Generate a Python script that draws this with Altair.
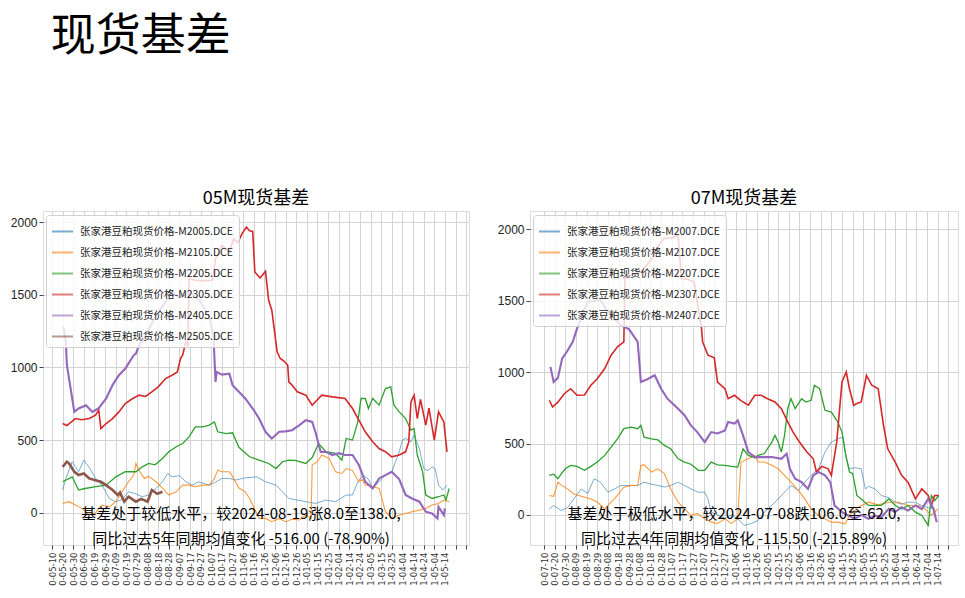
import altair as alt
import pandas as pd

CJK = "Noto Sans CJK SC"
NARROW = "Liberation Sans Narrow, Noto Sans CJK SC"
NUM = "Liberation Sans"

# ---------------- tick labels ----------------
L_LABELS = ["0-05-10", "0-05-20", "0-05-30", "0-06-09", "0-06-19", "0-06-29", "0-07-09", "0-07-19",
            "0-07-29", "0-08-08", "0-08-18", "0-08-28", "0-09-07", "0-09-17", "0-09-27", "0-10-07",
            "0-10-17", "0-10-27", "0-11-06", "0-11-16", "0-11-26", "0-12-06", "0-12-16", "0-12-26",
            "1-01-05", "1-01-15", "1-01-25", "1-02-04", "1-02-14", "1-02-24", "1-03-05", "1-03-15",
            "1-03-25", "1-04-04", "1-04-14", "1-04-24", "1-05-04", "1-05-14"]
R_LABELS = ["0-07-10", "0-07-20", "0-07-30", "0-08-09", "0-08-19", "0-08-29", "0-09-08", "0-09-18",
            "0-09-28", "0-10-08", "0-10-18", "0-10-28", "0-11-07", "0-11-17", "0-11-27", "0-12-07",
            "0-12-17", "0-12-27", "1-01-06", "1-01-16", "1-01-26", "1-02-05", "1-02-15", "1-02-25",
            "1-03-06", "1-03-16", "1-03-26", "1-04-05", "1-04-15", "1-04-25", "1-05-05", "1-05-15",
            "1-05-25", "1-06-04", "1-06-14", "1-06-24", "1-07-04", "1-07-14"]

# ---------------- left panel (05M) ----------------
L_NAMES = ["张家港豆粕现货价格-M2005.DCE", "张家港豆粕现货价格-M2105.DCE", "张家港豆粕现货价格-M2205.DCE",
           "张家港豆粕现货价格-M2305.DCE", "张家港豆粕现货价格-M2405.DCE", "张家港豆粕现货价格-M2505.DCE"]

L_M2005_DAYS = [10, 13, 19, 25, 30, 36, 41, 47, 54, 60, 66, 72, 79, 85, 91, 98, 104, 109, 113, 120,
                126, 132, 138, 148, 154, 160, 167, 173, 182, 193, 201, 211, 217, 223, 229, 239, 248, 258,
                267, 277, 283, 288, 293, 298, 302, 308, 314, 320, 327, 330, 333, 338, 341, 346, 350, 354,
                358, 361, 364, 368, 372]
L_M2005_VALS = [156, 236, 351, 282, 362, 300, 236, 190, 98, 76, 90, 144, 130, 110, 122, 167, 213, 270, 247, 255,
                213, 190, 213, 190, 210, 236, 236, 225, 240, 247, 213, 190, 144, 98, 90, 76, 64, 87,
                76, 122, 122, 213, 259, 230, 167, 213, 259, 282, 419, 500, 511, 488, 534, 442, 304, 290,
                316, 300, 190, 156, 190]

L_M2105_DAYS = [10, 16, 22, 28, 35, 41, 47, 54, 60, 66, 72, 77, 79, 82, 87, 91, 98, 104, 110, 117,
                123, 129, 135, 142, 148, 153, 156, 160, 167, 170, 176, 182, 186, 189, 192, 195, 201, 207,
                214, 220, 226, 233, 239, 244, 245, 250, 254, 261, 267, 273, 277, 283, 289, 292, 295, 302,
                308, 314, 320, 327, 333, 339, 346, 352, 358, 364, 369, 374]
L_M2105_VALS = [64, 76, 53, 30, -16, 0, 53, 40, 76, 144, 213, 259, 339, 290, 236, 250, 213, 170, 122, 144,
                190, 190, 179, 190, 190, 236, 293, 282, 282, 250, 170, 144, 98, 53, 7, -39, -39, -62,
                -39, -62, -45, -50, -16, -39, 328, 351, 397, 373, 282, 270, 304, 290, 213, 230, 190, 180,
                167, 7, -39, -16, -5, 7, 18, 30, 53, 64, 87, 76]

L_M2205_DAYS = [10, 19, 25, 30, 41, 51, 60, 69, 79, 85, 91, 97, 104, 110, 117, 123, 129, 135, 142, 148,
                153, 156, 164, 170, 176, 186, 195, 204, 211, 217, 223, 229, 239, 245, 251, 258, 267, 273,
                277, 283, 288, 291, 295, 298, 302, 308, 314, 319, 322, 327, 333, 338, 341, 344, 349, 352,
                358, 364, 369, 371, 374]
L_M2205_VALS = [213, 247, 156, 165, 179, 190, 247, 282, 282, 316, 340, 330, 373, 419, 454, 476, 522, 591, 591, 603,
                625, 557, 545, 550, 450, 385, 362, 339, 304, 351, 362, 360, 339, 380, 476, 420, 408, 362,
                511, 500, 625, 786, 786, 717, 786, 740, 854, 866, 740, 694, 648, 568, 580, 397, 282, 122,
                98, 110, 122, 87, 167]

L_M2305_DAYS = [10, 14, 22, 28, 35, 41, 44, 46, 51, 57, 63, 69, 76, 82, 88, 94, 100, 107, 113, 118,
                121, 123, 126, 128, 129, 135, 141, 151, 154, 160, 167, 171, 175, 179, 183, 186, 189, 191,
                196, 201, 204, 207, 212, 215, 219, 222, 223, 226, 231, 239, 245, 254, 264, 276, 283, 289,
                295, 302, 308, 314, 320, 327, 333, 336, 338, 341, 344, 347, 352, 355, 360, 364, 369, 372]
L_M2305_VALS = [614, 600, 648, 640, 648, 671, 706, 579, 614, 648, 694, 751, 786, 809, 800, 832, 866, 923, 946, 969,
                1060, 1084, 1175, 1150, 1610, 1600, 1595, 1600, 1748, 1840, 1794, 1885, 1860, 1920, 1966, 1940,
                1936, 1656, 1615, 1661, 1462, 1393, 1107, 1061, 1040, 1015, 900, 878, 832, 809, 740, 809, 797,
                786, 717, 637, 557, 488, 442, 420, 385, 397, 419, 488, 763, 809, 648, 780, 603, 720, 500, 694,
                625, 419]

L_M2405_DAYS = [10, 11, 13, 14, 17, 21, 25, 32, 38, 44, 51, 57, 63, 69, 77, 79, 82, 88, 98, 107,
                113, 120, 130, 140, 148, 152, 154, 155, 160, 167, 170, 176, 182, 189, 195, 201, 207, 214,
                220, 226, 233, 239, 245, 248, 253, 258, 264, 270, 276, 283, 289, 295, 302, 308, 314, 320,
                327, 333, 339, 346, 352, 358, 363, 364, 369, 370]
L_M2405_VALS = [1278, 1270, 1175, 1015, 878, 694, 717, 740, 694, 720, 786, 878, 946, 992, 1084, 1095, 1152, 1221,
                1359, 1450, 1519, 1480, 1520, 1450, 1350, 1221, 900, 969, 950, 957, 878, 832, 786, 717, 648,
                557, 511, 557, 560, 568, 603, 637, 625, 557, 419, 419, 397, 410, 397, 397, 328, 213, 167, 236,
                259, 282, 230, 122, 98, 76, 7, -5, -39, 41, -16, 30]

L_M2505_DAYS = [10, 14, 16, 21, 25, 30, 35, 40, 46, 51, 57, 62, 64, 68, 72, 79, 84, 90, 94, 99, 104]
L_M2505_VALS = [316, 351, 340, 282, 259, 270, 236, 225, 213, 190, 156, 122, 140, 76, 110, 76, 95, 76, 156, 130, 144]

# ---------------- right panel (07M) ----------------
R_NAMES = ["张家港豆粕现货价格-M2007.DCE", "张家港豆粕现货价格-M2107.DCE", "张家港豆粕现货价格-M2207.DCE",
           "张家港豆粕现货价格-M2307.DCE", "张家港豆粕现货价格-M2407.DCE"]

R_M2007_DAYS = [5, 9, 16, 22, 28, 35, 41, 47, 53, 60, 66, 72, 79, 88, 94, 101, 107, 113, 119, 126,
                132, 138, 145, 151, 154, 157, 163, 170, 176, 182, 188, 195, 201, 207, 214, 220, 226, 232,
                239, 245, 251, 258, 264, 270, 276, 281, 284, 287, 292, 298, 302, 305, 311, 317, 324, 330,
                336, 342, 348, 355, 361, 367]
R_M2007_VALS = [42, 66, 31, 50, 112, 182, 150, 253, 229, 159, 180, 206, 206, 206, 229, 215, 206, 195, 206, 229,
                206, 182, 159, 159, 112, 19, 0, -28, 0, -28, -74, -60, -40, 19, 66, 112, 159, 206,
                171, 229, 277, 323, 440, 510, 533, 545, 393, 323, 330, 323, 182, 200, 182, 136, 120, 89,
                75, 89, 89, 66, 50, 42]

R_M2107_DAYS = [5, 9, 13, 16, 22, 28, 35, 44, 50, 57, 63, 69, 75, 82, 88, 91, 94, 101, 107, 113,
                119, 126, 132, 138, 144, 151, 157, 163, 170, 176, 182, 185, 192, 198, 201, 207, 214, 220,
                226, 232, 239, 245, 251, 258, 264, 270, 276, 283, 287, 295, 305, 314, 324, 333, 342, 352,
                358, 364, 370]
R_M2107_VALS = [136, 130, 229, 210, 182, 147, 130, 112, 90, 42, 90, 136, 194, 206, 206, 347, 350, 300, 323, 290,
                182, 89, 42, -4, 10, -28, -51, -60, -28, -60, -28, 370, 393, 417, 370, 370, 347, 323,
                277, 229, 171, 112, 42, -4, -28, -51, -51, -63, -4, 54, 89, 70, 89, 89, 66, 66,
                42, -4, 42]

R_M2207_DAYS = [5, 9, 13, 16, 20, 25, 31, 38, 44, 50, 57, 63, 69, 75, 82, 88, 91, 94, 101, 107,
                113, 119, 126, 132, 138, 145, 151, 157, 163, 170, 176, 182, 187, 192, 198, 201, 207, 214,
                217, 220, 223, 226, 229, 232, 236, 242, 246, 251, 254, 259, 264, 270, 276, 280, 283, 287,
                290, 294, 298, 305, 311, 317, 324, 330, 336, 342, 349, 355, 361, 364, 367, 371]
R_M2207_VALS = [277, 285, 253, 285, 323, 347, 340, 312, 340, 370, 417, 475, 533, 604, 615, 604, 627, 545, 533, 525,
                487, 463, 393, 370, 355, 312, 312, 370, 350, 347, 340, 335, 463, 417, 400, 417, 430, 510,
                557, 510, 440, 557, 744, 814, 744, 814, 790, 803, 908, 884, 733, 720, 651, 580, 440, 300,
                290, 136, 112, 66, 66, 66, 112, 66, 42, 66, 19, -4, -74, 136, 100, 136]

R_M2307_DAYS = [5, 8, 13, 19, 25, 31, 38, 44, 50, 57, 63, 69, 75, 76, 82, 91, 100, 110, 113, 120,
                126, 129, 135, 141, 145, 148, 149, 154, 160, 163, 170, 173, 179, 185, 192, 198, 204, 210,
                217, 223, 229, 234, 240, 247, 253, 256, 261, 267, 270, 275, 280, 284, 287, 291, 294, 298,
                303, 308, 314, 319, 323, 330, 336, 342, 349, 355, 361, 364, 367, 371]
R_M2307_VALS = [803, 756, 790, 849, 884, 838, 840, 908, 954, 1025, 1119, 1177, 1212, 1656, 1680, 1703, 1780, 1914,
                1937, 1940, 1961, 1656, 1650, 1633, 1450, 1305, 1212, 1119, 1100, 931, 884, 814, 838, 800,
                768, 838, 838, 814, 791, 744, 651, 580, 510, 440, 393, 300, 340, 323, 277, 510, 931, 1001,
                884, 768, 780, 791, 978, 908, 884, 627, 463, 370, 277, 229, 112, 182, 136, 66, 136, 136]

R_M2407_DAYS = [6, 9, 13, 17, 22, 27, 31, 41, 53, 60, 72, 80, 88, 91, 97, 104, 110, 116, 121, 126,
                132, 138, 144, 151, 157, 163, 170, 173, 179, 182, 187, 192, 198, 207, 214, 223, 228, 231,
                236, 242, 248, 253, 258, 264, 269, 273, 280, 286, 292, 298, 305, 311, 317, 324, 330, 336,
                342, 349, 355, 361, 366, 369]
R_M2407_VALS = [1037, 931, 960, 1095, 1150, 1212, 1305, 1493, 1505, 1423, 1329, 1300, 1212, 931, 950, 978, 884,
                814, 779, 744, 698, 627, 580, 510, 580, 570, 592, 651, 640, 662, 557, 440, 405, 405, 405,
                393, 428, 323, 253, 229, 182, 277, 300, 277, 229, 66, 19, -4, -28, 0, -28, -5, -16, 42,
                20, 54, 30, 66, 40, 112, 42, -51]

L_NOTE = ["基差处于较低水平，较2024-08-19涨8.0至138.0,", "同比过去5年同期均值变化 -516.00 (-78.90%)"]
R_NOTE = ["基差处于极低水平，较2024-07-08跌106.0至-62.0,", "同比过去4年同期均值变化 -115.50 (-215.89%)"]

COLORS = ["#1f77b4", "#ff7f0e", "#2ca02c", "#d62728", "#9467bd", "#8c564b"]
WIDTHS = [1.0, 1.1, 1.3, 1.6, 2.1, 2.6]
OPACITY = [0.6, 0.8, 1.0, 1.0, 1.0, 1.0]


def panel(names, days_list, vals_list, labels, xdom, ydom, title, note, width, height, note_x):
    rows = []
    for name, ds, vs in zip(names, days_list, vals_list):
        for d, v in zip(ds, vs):
            rows.append({"series": name, "day": d, "value": v})
    df = pd.DataFrame(rows)
    n = len(names)
    arr = "[" + ",".join("'" + s + "'" for s in labels) + "]"
    ticks = [t for t in range(0, 391, 10) if xdom[0] <= t <= xdom[1]]
    xenc = alt.X("day:Q", scale=alt.Scale(domain=xdom, nice=False, zero=False),
                 axis=alt.Axis(values=ticks, title=None, labelAngle=270,
                               labelExpr=arr + "[round(datum.value/10)] || ''",
                               labelFont="DejaVu Sans", labelFontSize=8.5, labelColor="#333",
                               labelPadding=3, tickSize=4, tickColor="#444", domain=False,
                               grid=True, gridColor="#d4d4d4", gridWidth=1, labelOverlap=False,
                               labelBound=False, labelFlush=False))
    yenc = alt.Y("value:Q", scale=alt.Scale(domain=ydom, nice=False, zero=False),
                 axis=alt.Axis(values=[0, 500, 1000, 1500, 2000], title=None, format="d",
                               labelFont=NUM, labelFontSize=12, labelColor="#222",
                               labelPadding=2, tickSize=4, tickColor="#444", domain=False,
                               grid=True, gridColor="#d4d4d4", gridWidth=1))
    cscale = alt.Scale(domain=names, range=COLORS[:n])
    legend = alt.Legend(title=None, orient="none", legendX=3, legendY=4, symbolType="stroke",
                        symbolSize=440, symbolStrokeWidth=2, labelFont=NARROW, labelFontSize=10.5,
                        labelColor="#222", rowPadding=4, labelOffset=6, padding=5,
                        fillColor="rgba(255,255,255,0.8)", strokeColor="#d0d0d0", cornerRadius=3,
                        labelLimit=400)
    layers = []
    for i, name in enumerate(names):
        layers.append(
            alt.Chart(df).transform_filter(alt.datum.series == name)
            .mark_line(strokeWidth=WIDTHS[i], opacity=OPACITY[i], clip=True)
            .encode(x=xenc, y=yenc,
                    color=alt.Color("series:N", scale=cscale, legend=legend))
        )
    for k, line in enumerate(note):
        layers.append(
            alt.Chart(pd.DataFrame({"t": [line]})).mark_text(
                font=NARROW, fontSize=15, color="black", align="center", baseline="middle")
            .encode(text="t:N", x=alt.value(note_x), y=alt.value(303 + 25 * k))
        )
    return alt.layer(*layers).properties(
        width=width, height=height,
        title=alt.TitleParams(title, font=NARROW, fontSize=18, fontWeight="normal",
                              color="black", offset=3, frame="group"))


left = panel(L_NAMES,
             [L_M2005_DAYS, L_M2105_DAYS, L_M2205_DAYS, L_M2305_DAYS, L_M2405_DAYS, L_M2505_DAYS],
             [L_M2005_VALS, L_M2105_VALS, L_M2205_VALS, L_M2305_VALS, L_M2405_VALS, L_M2505_VALS],
             L_LABELS, [-8.5, 392.7], [-222, 2076], "05M现货基差", L_NOTE, 426, 334, 198)
right = panel(R_NAMES,
              [R_M2007_DAYS, R_M2107_DAYS, R_M2207_DAYS, R_M2307_DAYS, R_M2407_DAYS],
              [R_M2007_VALS, R_M2107_VALS, R_M2207_VALS, R_M2307_VALS, R_M2407_VALS],
              R_LABELS, [-13.2, 389], [-211, 2129], "07M现货基差", R_NOTE, 428, 334, 204)

chart = alt.hconcat(left, right, spacing=24).resolve_scale(color="independent").resolve_legend(
    color="independent").properties(
    padding={"left": 9, "top": 14, "right": 2, "bottom": 3},
    title=alt.TitleParams("现货基差", font=CJK, fontSize=45, fontWeight="normal", color="black",
                          anchor="start", dx=41, offset=130),
).configure_view(stroke="#555", strokeWidth=1).configure(background="white")

chart.save("out.html", embed_options={"renderer": "svg", "actions": False})
